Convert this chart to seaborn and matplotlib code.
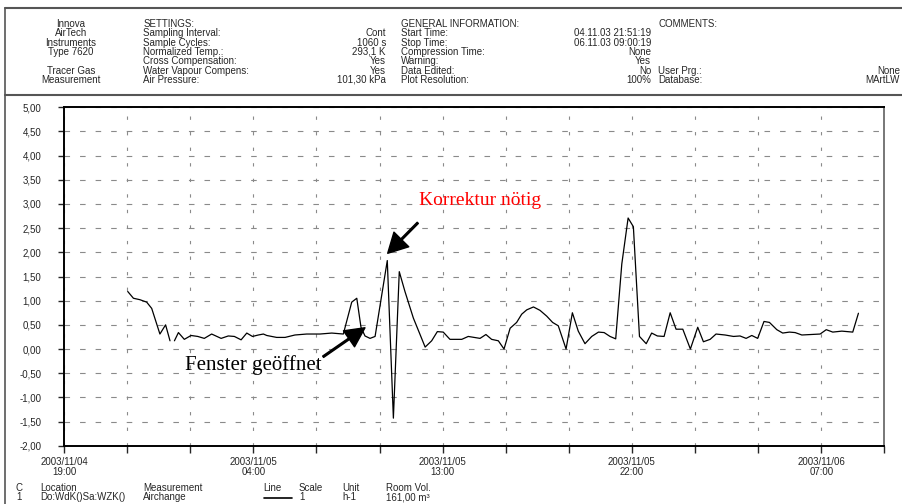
import pandas as pd
import seaborn as sns
import matplotlib.pyplot as plt
from matplotlib.lines import Line2D
from matplotlib.ticker import FuncFormatter

# hours after 2003/11/04 19:00, NaN = missing sample
stunden = [3.03, 3.30, 3.61, 3.93, 4.17, 4.56, 4.83, 5.04, 5.15, 5.25, 5.44, 5.72,
           6.04, 6.36, 6.67, 7.02, 7.47, 7.81, 8.10, 8.42, 8.69, 8.96, 9.24, 9.48,
           9.64, 10.11, 10.51, 10.98, 11.54, 12.17, 12.73, 13.28, 13.68, 13.92, 14.12,
           14.31, 14.55, 14.79, 15.37, 15.66, 15.94, 16.21, 16.61, 16.90, 17.17, 17.48,
           17.75, 18.03, 18.35, 18.91, 19.22, 19.78, 20.06, 20.33, 20.65, 20.92, 21.21,
           21.52, 21.76, 22.00, 22.32, 22.63, 22.95, 23.23, 23.50, 23.87, 24.17, 24.45,
           24.77, 25.09, 25.41, 25.68, 25.96, 26.23, 26.52, 26.82, 27.07, 27.36, 27.68,
           27.94, 28.21, 28.53, 28.82, 29.10, 29.42, 29.78, 30.13, 30.40, 30.72, 31.00,
           31.43, 31.83, 32.14, 32.43, 32.70, 32.98, 33.28, 33.54, 33.89, 34.17, 34.49,
           34.76, 35.08, 35.95, 36.24, 36.55, 36.98, 37.50, 37.77]
# air change rate h-1
luftwechsel = [1.19, 1.05, 1.02, 0.97, 0.84, 0.31, 0.50, 0.17, float('nan'), 0.17, 0.34, 0.20,
               0.28, 0.26, 0.22, 0.31, 0.22, 0.27, 0.26, 0.19, 0.33, 0.26, 0.29, 0.31,
               0.28, 0.24, 0.24, 0.29, 0.31, 0.31, 0.33, 0.31, 0.97, 1.05, 0.45,
               0.27, 0.22, 0.26, 1.83, -1.43, 1.60, 1.19, 0.64, 0.33, 0.04, 0.17,
               0.36, 0.35, 0.20, 0.20, 0.26, 0.22, 0.30, 0.20, 0.17, 0.00, 0.43,
               0.55, 0.72, 0.81, 0.87, 0.80, 0.68, 0.55, 0.48, 0.00, 0.75, 0.37,
               0.11, 0.26, 0.35, 0.34, 0.26, 0.21, 1.76, 2.71, 2.53, 0.26, 0.11,
               0.33, 0.27, 0.26, 0.75, 0.41, 0.41, 0.00, 0.45, 0.15, 0.20, 0.31,
               0.29, 0.26, 0.27, 0.22, 0.28, 0.22, 0.57, 0.55, 0.40, 0.33, 0.35,
               0.34, 0.29, 0.31, 0.40, 0.35, 0.37, 0.35, 0.74]

x_ticks = list(range(0, 40, 3))
x_labels = ['2003/11/04\n19:00', '', '', '2003/11/05\n04:00', '', '', '2003/11/05\n13:00',
            '', '', '2003/11/05\n22:00', '', '', '2003/11/06\n07:00', '']
y_ticks = [-2.0, -1.5, -1.0, -0.5, 0.0, 0.5, 1.0, 1.5, 2.0, 2.5, 3.0, 3.5, 4.0, 4.5, 5.0]

kopf_links = ['Innova', 'AirTech', 'Instruments', 'Type 7620', '', 'Tracer Gas', 'Measurement']
settings = ['SETTINGS:', 'Sampling Interval:', 'Sample Cycles:', 'Normalized Temp.:',
            'Cross Compensation:', 'Water Vapour Compens:', 'Air Pressure:']
settings_wert = ['', 'Cont', '1060 s', '293,1 K', 'Yes', 'Yes', '101,30 kPa']
general = ['GENERAL INFORMATION:', 'Start Time:', 'Stop Time:', 'Compression Time:',
           'Warning:', 'Data Edited:', 'Plot Resolution:']
general_wert = ['', '04.11.03 21:51:19', '06.11.03 09:00:19', 'None', 'Yes', 'No', '100%']
comments = ['COMMENTS:', '', '', '', '', 'User Prg.:', 'Database:']
comments_wert = ['', '', '', '', '', 'None', 'MArtLW']

legende_kopf = ['C', 'Location', 'Measurement', 'Line', 'Scale', 'Unit', 'Room Vol.']
legende_zeile = ['1', 'Do:WdK()Sa:WZK()', 'Airchange', '', '1', 'h-1', '161,00 m³']

df = pd.DataFrame({'stunden': stunden, 'wert': luftwechsel})
df['abschnitt'] = df['wert'].isna().cumsum()
df = df.dropna()

sns.set_style('white')
plt.rcParams['font.family'] = ['Liberation Sans', 'DejaVu Sans']

W, H = 902, 504
fig = plt.figure(figsize=(W / 100, H / 100), dpi=100)
ax = fig.add_axes([64 / W, 1 - 445.7 / H, (884.3 - 64) / W, (445.7 - 107.3) / H])

sns.lineplot(data=df, x='stunden', y='wert', units='abschnitt', estimator=None,
             color='black', linewidth=0.9, ax=ax)

ax.set_xlim(0, 39)
ax.set_ylim(-2, 5)
ax.set_xticks(x_ticks)
ax.set_xticklabels(x_labels, fontsize=7, linespacing=1.0)
ax.set_yticks(y_ticks)
ax.yaxis.set_major_formatter(FuncFormatter(lambda v, p: f'{v:.2f}'.replace('.', ',')))
ax.tick_params(axis='y', labelsize=7, length=4.5, width=1, direction='out', pad=12, left=True)
ax.tick_params(axis='x', length=5, width=1, direction='out', pad=3, bottom=True)
ax.set_xlabel('')
ax.set_ylabel('')

ax.yaxis.grid(True, linestyle=(0, (5, 9)), color='#8a8a8a', linewidth=0.8)
ax.xaxis.grid(True, linestyle=(0, (3, 11)), color='#8a8a8a', linewidth=0.8)
for s in ['left', 'bottom', 'top']:
    ax.spines[s].set_color('black')
    ax.spines[s].set_linewidth(1.4)
ax.spines['right'].set_color('#777777')
ax.spines['right'].set_linewidth(1.4)

# annotations
ax.annotate('', xy=(15.39, 1.98), xytext=(16.82, 2.61),
            arrowprops=dict(facecolor='black', edgecolor='black', width=1.2,
                            headwidth=15, headlength=14, shrink=0))
ax.text(19.78, 2.98, 'Korrektur nötig', color='red', fontsize=14, family='Liberation Serif',
        ha='center', va='baseline')
ax.annotate('', xy=(14.31, 0.44), xytext=(12.32, -0.16),
            arrowprops=dict(facecolor='black', edgecolor='black', width=1.2,
                            headwidth=14, headlength=14, shrink=0))
ax.text(9.01, -0.44, 'Fenster geöffnet', color='black', fontsize=15, family='Liberation Serif',
        ha='center', va='baseline')

# page frame and header
rahmen = '#555555'
fig.add_artist(Line2D([4.5 / W, 1], [1 - 8.3 / H, 1 - 8.3 / H], color=rahmen, lw=1.5))
fig.add_artist(Line2D([4.5 / W, 1], [1 - 94.5 / H, 1 - 94.5 / H], color=rahmen, lw=1.5))
fig.add_artist(Line2D([4.5 / W, 4.5 / W], [0, 1 - 8.3 / H], color=rahmen, lw=1.2))

for i in range(7):
    y = 1 - (24 + 9.33 * i) / H
    kw = dict(fontsize=7, va='center')
    fig.text(71 / W, y, kopf_links[i], ha='center', **kw)
    fig.text(143.3 / W, y, settings[i], ha='left', **kw)
    fig.text(386 / W, y, settings_wert[i], ha='right', **kw)
    fig.text(401 / W, y, general[i], ha='left', **kw)
    fig.text(651 / W, y, general_wert[i], ha='right', **kw)
    fig.text(658.3 / W, y, comments[i], ha='left', **kw)
    fig.text(900 / W, y, comments_wert[i], ha='right', **kw)

# legend table at the bottom
spalten = [19, 40, 143.3, 263.3, 299, 342.3, 385.7]
for i, x in enumerate(spalten):
    ha = 'center' if i == 0 else 'left'
    fig.text(x / W, 1 - 488 / H, legende_kopf[i], fontsize=7, va='center', ha=ha)
    fig.text(x / W, 1 - 497.5 / H, legende_zeile[i], fontsize=7, va='center', ha=ha)
fig.add_artist(Line2D([264 / W, 292 / W], [1 - 497.5 / H, 1 - 497.5 / H], color='black', lw=1.2))

fig.savefig('out.png', dpi=100)
plt.close()
